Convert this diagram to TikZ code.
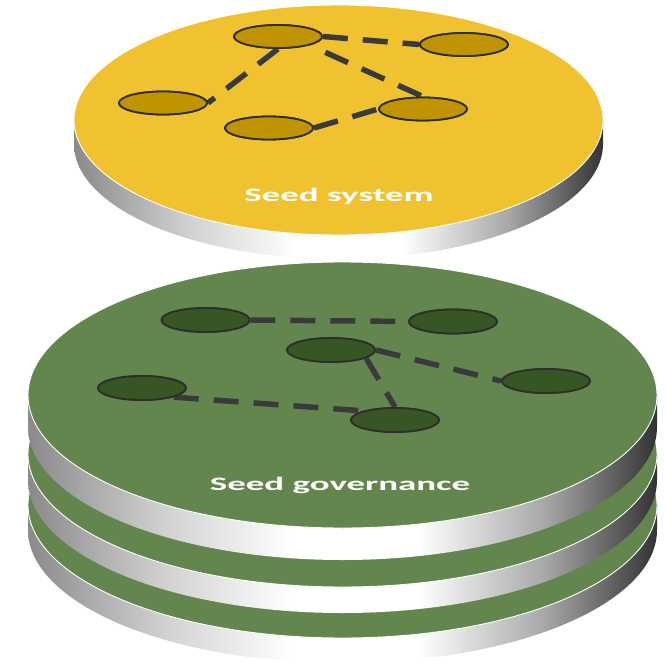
\documentclass[tikz,border=0pt]{standalone}
\usepackage{fontspec}
\usepackage{graphicx}
\newfontfamily\labelfont{Carlito}
\usetikzlibrary{shapes.geometric}
\definecolor{yface}{HTML}{F1C22F}
\definecolor{gface}{HTML}{63864F}
\definecolor{ynode}{HTML}{C09300}
\definecolor{gnode}{HTML}{375623}
\definecolor{linkc}{HTML}{3A3A3A}
\definecolor{rimc}{HTML}{2E2E2E}
\definecolor{sA}{HTML}{8A8A8A}
\definecolor{sB}{HTML}{D2D2D2}
\definecolor{sC}{HTML}{A8A8A8}
\definecolor{sD}{HTML}{333333}
\pgfdeclarehorizontalshading{sideshade}{100bp}{color(0bp)=(sA); color(25bp)=(sA); color(36bp)=(sB); color(46bp)=(white); color(56bp)=(white); color(66bp)=(sC); color(75bp)=(sD); color(100bp)=(sD)}
\newcommand\stackdisk[6]{%
  \path[shading=sideshade] (#1-#3,#2) -- (#1-#3,#2+#5)
     arc[start angle=180,end angle=0,x radius=#3,y radius=#4]
     -- (#1+#3,#2)
     arc[start angle=0,end angle=180,x radius=#3,y radius=#4] -- cycle;
  \path[fill=#6,draw=white,line width=0.9bp] (#1,#2) ellipse[x radius=#3,y radius=#4];
}
\tikzset{
  ynd/.style={ellipse,draw=rimc,line width=1.8bp,fill=ynode,minimum width=88bp,minimum height=23bp,inner sep=0pt},
  gnd/.style={ellipse,draw=rimc,line width=1.8bp,fill=gnode,minimum width=88bp,minimum height=24bp,inner sep=0pt},
  conn/.style={draw=linkc,line width=5.5bp,dash pattern=on 25bp off 15bp},
  disklabel/.style={text=white,font=\labelfont\bfseries\fontsize{19}{19}\selectfont,anchor=base,inner sep=0pt}
}
\begin{document}
\begin{tikzpicture}[x=1bp,y=-1bp]
\useasboundingbox (0,0) rectangle (667,664);
% green stack, bottom first
\stackdisk{342.5}{505}{314.5}{133}{25}{gface}
\stackdisk{342.5}{454}{314.5}{133}{26}{gface}
\stackdisk{342.5}{395}{314.5}{133}{32}{gface}
% yellow disk
\stackdisk{338.5}{120}{264.5}{115}{24}{yface}

% yellow network
\node[ynd] (A) at (278,36.5) {};
\node[ynd] (B) at (464,44.5) {};
\node[ynd] (C) at (163,103) {};
\node[ynd] (D) at (269,128) {};
\node[ynd] (E) at (423,109) {};
\draw[conn] (A.east) -- (B.west);
\draw[conn] (A.south) -- (C.east);
\draw[conn,shorten <=17bp] (A.south east) -- (E.north);
\draw[conn] (D.east) -- (E.west);
\node[ynd] at (A) {};
\node[ynd] at (B) {};
\node[ynd] at (C) {};
\node[ynd] at (D) {};
\node[ynd] at (E) {};
\node[disklabel] (sys) at (339,201) {\scalebox{1.95}[1]{Seed system}};

% green network
\node[gnd] (G1) at (205.5,320) {};
\node[gnd] (G2) at (453,321.5) {};
\node[gnd] (G3) at (331,350) {};
\node[gnd] (G4) at (142,388) {};
\node[gnd] (G5) at (546,381) {};
\node[gnd] (G6) at (395,420) {};
\draw[conn] (G1.east) -- (G2.west);
\draw[conn] (G3.east) -- (G5.west);
\draw[conn] (G3.-13) -- (G6.north);
\draw[conn] (G4.south east) -- (G6.north west);
\node[gnd] at (G1) {};
\node[gnd] at (G2) {};
\node[gnd] at (G3) {};
\node[gnd] at (G4) {};
\node[gnd] at (G5) {};
\node[gnd] at (G6) {};
\node[disklabel] (gov) at (340,490) {\scalebox{1.95}[1]{Seed governance}};
\end{tikzpicture}
\end{document}
